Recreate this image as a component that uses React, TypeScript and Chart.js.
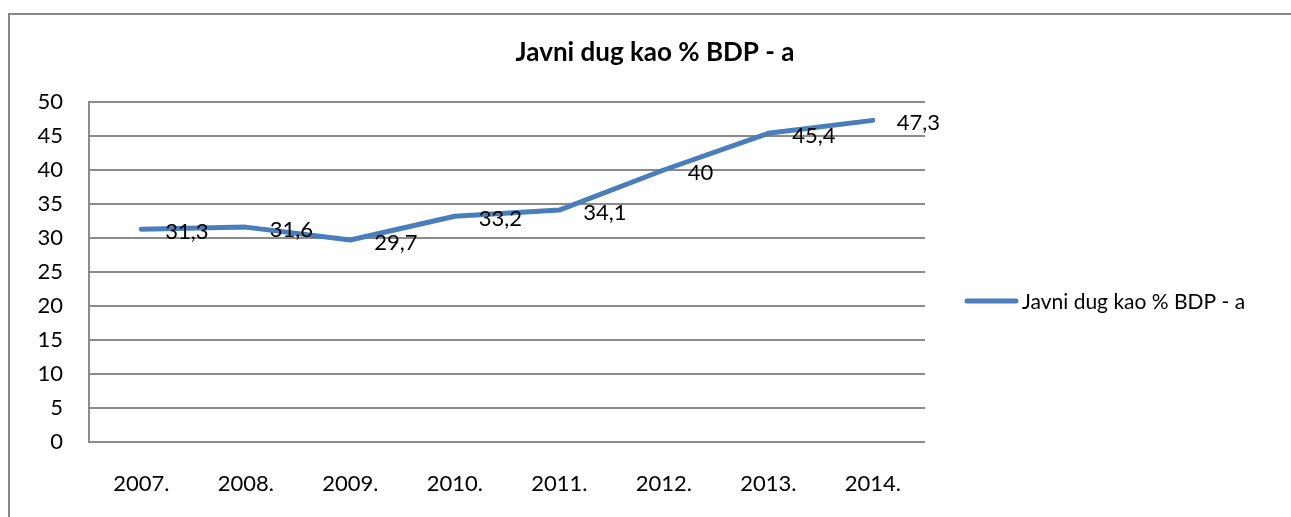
import React, { useEffect, useRef } from "react";
import { Chart, registerables } from "chart.js";

Chart.register(...registerables);

const TITLE = "Javni dug kao % BDP - a";
const SERIES_LABEL = "Javni dug kao % BDP - a";
const YEARS = ["2007.", "2008.", "2009.", "2010.", "2011.", "2012.", "2013.", "2014."];
const DEBT = [31.3, 31.6, 29.7, 33.2, 34.1, 40, 45.4, 47.3];
const Y_MIN = 0;
const Y_MAX = 50;
const Y_STEP = 5;

const LINE_COLOR = "#4a7ebb";
const GRID_COLOR = "#8a8a8a";
const FONT = "Lato";

const overlayPlugin = {
  id: "overlay",
  afterDatasetsDraw(chart: any) {
    const ctx = chart.ctx as CanvasRenderingContext2D;
    ctx.save();
    // title
    ctx.fillStyle = "#000";
    ctx.font = `bold 26px ${FONT}`;
    ctx.textAlign = "center";
    ctx.textBaseline = "middle";
    ctx.fillText(TITLE, 655, 53);
    // legend
    ctx.strokeStyle = LINE_COLOR;
    ctx.lineWidth = 5;
    ctx.lineCap = "round";
    ctx.beginPath();
    ctx.moveTo(967, 301);
    ctx.lineTo(1016, 301);
    ctx.stroke();
    ctx.font = `21px ${FONT}`;
    ctx.textAlign = "left";
    ctx.fillText(SERIES_LABEL, 1022, 302);
    // data labels
    ctx.font = `22px ${FONT}`;
    const meta = chart.getDatasetMeta(0);
    meta.data.forEach((pt: any, i: number) => {
      const txt = String(DEBT[i]).replace(".", ",");
      ctx.fillText(txt, pt.x + 24, pt.y + 2.5);
    });
    ctx.restore();
  },
};

export default function App() {
  const canvasRef = useRef<HTMLCanvasElement | null>(null);

  useEffect(() => {
    if (!canvasRef.current) return;
    const chart = new Chart(canvasRef.current, {
      type: "line",
      data: {
        labels: YEARS,
        datasets: [
          {
            label: SERIES_LABEL,
            data: DEBT,
            borderColor: LINE_COLOR,
            backgroundColor: LINE_COLOR,
            borderWidth: 5,
            pointRadius: 0,
            tension: 0,
            borderJoinStyle: "round",
            borderCapStyle: "round",
          },
        ],
      },
      options: {
        responsive: false,
        animation: false,
        layout: { padding: { left: 0, right: 366, top: 102, bottom: 0 } },
        plugins: {
          legend: { display: false },
          title: { display: false },
          tooltip: { enabled: false },
        },
        scales: {
          x: {
            offset: true,
            grid: { display: false, drawTicks: false },
            border: { display: false },
            ticks: {
              color: "#000",
              font: { family: FONT, size: 22 },
              padding: 29,
              maxRotation: 0,
              autoSkip: false,
            },
            afterFit: (s: any) => {
              s.height = 75;
            },
          },
          y: {
            min: Y_MIN,
            max: Y_MAX,
            grid: { color: GRID_COLOR, lineWidth: 2, drawTicks: false },
            border: { display: true, color: GRID_COLOR, width: 2 },
            ticks: {
              stepSize: Y_STEP,
              color: "#000",
              font: { family: FONT, size: 22 },
              padding: 26,
            },
            afterFit: (s: any) => {
              s.width = 89;
            },
          },
        },
      },
      plugins: [overlayPlugin],
    });
    if ((document as any).fonts) {
      (document as any).fonts.load(`22px ${FONT}`).then(() => chart.update());
      (document as any).fonts.load(`bold 26px ${FONT}`).then(() => chart.update());
    }
    return () => chart.destroy();
  }, []);

  return (
    <div style={{ position: "absolute", left: 0, top: 0, width: 1291, height: 517, overflow: "hidden", background: "#fff" }}>
      <div
        style={{
          position: "absolute",
          left: 8,
          top: 13,
          width: 1300,
          height: 520,
          borderLeft: "2px solid #878787",
          borderTop: "2px solid #878787",
        }}
      />
      <canvas ref={canvasRef} width={1291} height={517} style={{ position: "absolute", left: 0, top: 0 }} />
    </div>
  );
}
